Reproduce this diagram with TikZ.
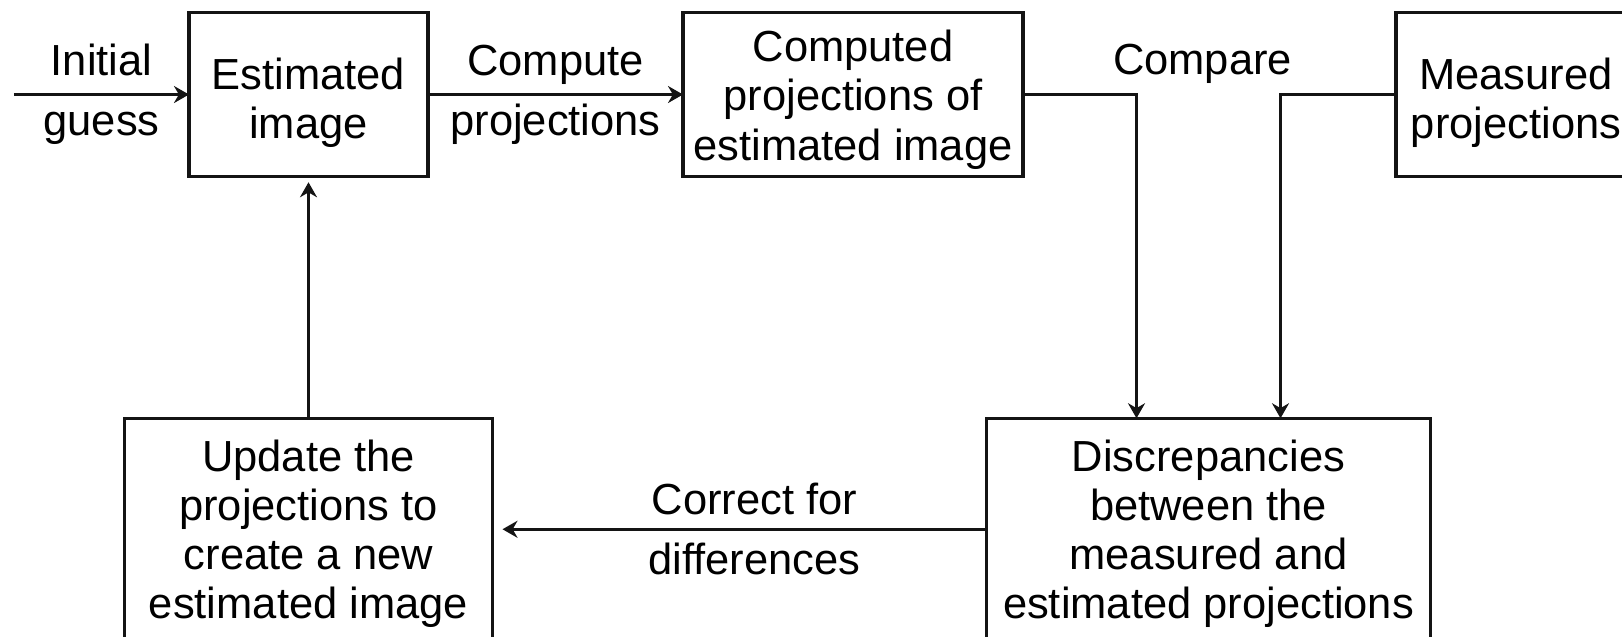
\documentclass[tikz,border=0pt]{standalone}
\usepackage{fontspec}
\setmainfont{Liberation Sans}
\usetikzlibrary{positioning,arrows.meta,calc}
\definecolor{InkBlack}{RGB}{20,20,20}
\tikzset{
  flow/.style={-{Stealth[length=0.3cm,width=0.34cm]},line width=1.5pt,draw=InkBlack},
  box/.style={draw=InkBlack,line width=1.9pt,inner sep=0pt,outer sep=0pt,
    align=center,font=\fontsize{24.75}{27.9}\selectfont},
  topbox/.style={box,minimum height=3.27cm},
  lowbox/.style={box,minimum height=4.44cm},
  lbl/.style={align=center,inner sep=0pt,font=\fontsize{24.75}{34}\selectfont}
}

\begin{document}
\begin{tikzpicture}[node distance=0.5cm]
  \useasboundingbox (0,0) rectangle (32.44,-12.72);
  \clip (0,0) rectangle (32.44,-12.72);
  % top row
  \node[topbox,minimum width=4.78cm] (est) at (6.17,-1.89) {\rule{0pt}{0.95cm}Estimated\\image};
  \node[topbox,minimum width=6.8cm,right=5.1cm of est] (comp) {\rule{0pt}{0.84cm}Computed\\projections of\\estimated image};
  \node[topbox,minimum width=4.8cm,right=7.46cm of comp] (meas) {\rule{0pt}{0.95cm}Measured\\projections};
  % bottom row
  \node[lowbox,minimum width=7.36cm,below=4.84cm of est] (upd) {\rule{0pt}{0.8cm}Update the\\projections to\\create a new\\estimated image};
  \node[lowbox,minimum width=8.88cm,right=9.88cm of upd] (disc) {\rule{0pt}{0.8cm}Discrepancies\\between the\\measured and\\estimated projections};
  % connectors
  \coordinate[left=3.5cm of est.west] (start);
  \draw[flow] (start) -- node[lbl] {Initial\\guess} (est);
  \draw[flow] (est) -- node[lbl] {Compute\\projections} (comp);
  \draw[flow] (comp.east) -| ([xshift=-1.44cm]disc.north);
  \draw[flow] (meas.west) -| ([xshift=1.44cm]disc.north);
  \node[lbl,anchor=base] (cmp) at ([xshift=-0.12cm,yshift=0.4cm]disc.north |- comp.east) {Compare};
  \draw[flow,shorten >=0.2cm] (disc) -- node[lbl,xshift=0.3cm] {Correct for\\differences} (upd);
  \draw[flow,shorten >=0.12cm] (upd) -- (est);
\end{tikzpicture}
\end{document}
